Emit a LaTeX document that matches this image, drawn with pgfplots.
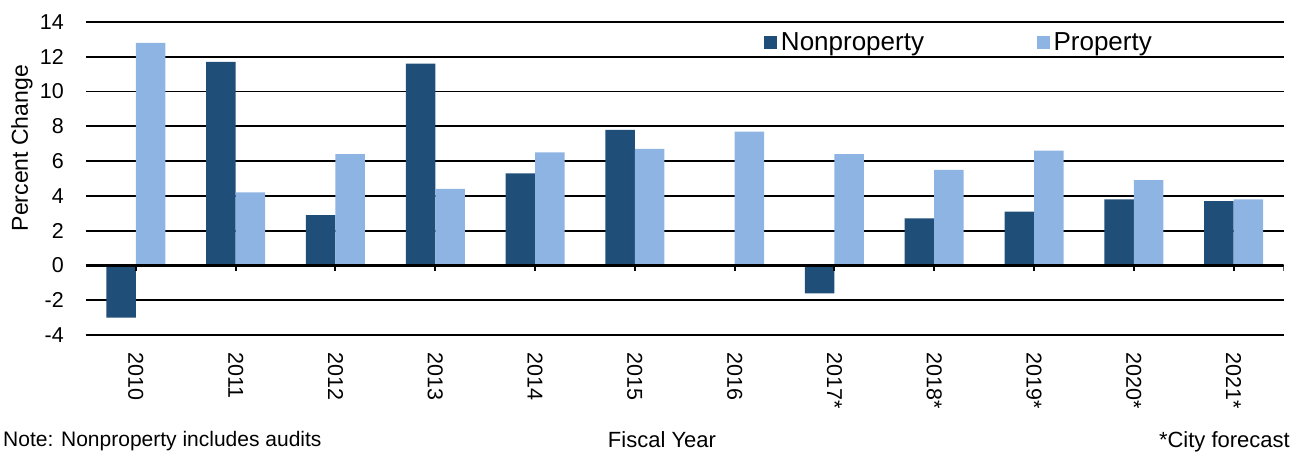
\documentclass[border=0pt]{standalone}
\usepackage{fontspec}
\setmainfont{Liberation Sans}
\usepackage{pgfplots}
\pgfplotsset{compat=1.18}
\definecolor{nonprop}{HTML}{1F4E79}
\definecolor{prop}{HTML}{8DB4E2}
\begin{document}
\begin{tikzpicture}[x=1pt,y=1pt]
\useasboundingbox (0,0) rectangle (1297,451);
\begin{axis}[
  at={(86pt,116pt)}, anchor=south west,
  scale only axis, width=1197.5pt, height=313pt,
  xmin=-0.5, xmax=11.5, ymin=-4, ymax=14,
  ybar=0pt, bar width=29.5pt,
  axis line style={draw=none},
  ytick={-4,-2,...,14},
  yticklabels={-4,-2,0,2,4,6,8,10,12,14},
  xtick={0,...,11},
  xticklabels={2010,2011,2012,2013,2014,2015,2016,2017*,2018*,2019*,2020*,2021*},
  major tick length=0pt,
  ymajorgrids, grid style={black, line width=1.8pt},
  tick label style={font=\fontsize{21.5}{25}\selectfont, inner sep=0pt},
  xticklabel style={rotate=-90, anchor=west},
  xticklabel shift=17pt,
  yticklabel style={anchor=east},
  yticklabel shift=22pt,
  ylabel={Percent Change},
  ylabel style={at={(axis description cs:-0.0534,0.597)}, anchor=center, font=\fontsize{23}{27}\selectfont, inner sep=0pt},
  xlabel={Fiscal Year},
  xlabel style={at={(axis description cs:0.481,-0.358)}, anchor=base, font=\fontsize{22}{26}\selectfont, inner sep=0pt},
  legend image code/.code={\fill[#1] (0pt,-6.75pt) rectangle (13.5pt,6.75pt);},
  legend style={at={(0.566,0.935)}, anchor=west, draw=none, fill=none, inner sep=0pt,
    font=\fontsize{26}{30}\selectfont, nodes={inner sep=3.5pt},
    /tikz/every even column/.append style={column sep=109pt}},
  legend columns=2,
]
\addplot[fill=nonprop, draw=none] coordinates {
  (0,-3.0) (1,11.7) (2,2.9) (3,11.6) (4,5.3) (5,7.8)
  (7,-1.6) (8,2.7) (9,3.1) (10,3.8) (11,3.7)};
\addplot[fill=prop, draw=none] coordinates {
  (0,12.8) (1,4.2) (2,6.4) (3,4.4) (4,6.5) (5,6.7)
  (6,7.7) (7,6.4) (8,5.5) (9,6.6) (10,4.9) (11,3.8)};
\legend{Nonproperty, Property}
\draw[black, line width=3pt] (axis cs:-0.5,0) -- (axis cs:11.5,0);
\pgfplotsinvokeforeach{0,...,11,11.5}{
  \draw[black, line width=2pt] (axis cs:#1,0) -- ++(0pt,-6pt);
}
\end{axis}
\node[anchor=base west, inner sep=0pt, font=\fontsize{21}{25}\selectfont] at (3,5) {Note: Nonproperty includes audits};
\node[anchor=base east, inner sep=0pt, font=\fontsize{22}{26}\selectfont] at (1290,4) {*City forecast};
\end{tikzpicture}
\end{document}
